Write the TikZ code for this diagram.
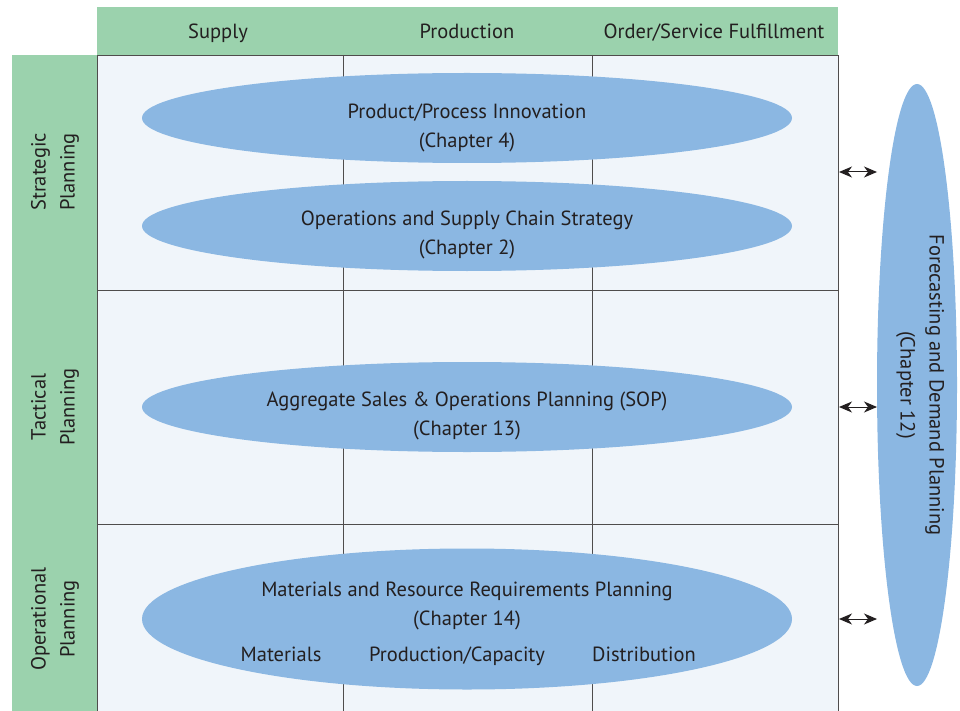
\documentclass[tikz,border=0pt]{standalone}
\usepackage{fontspec}
\setmainfont{PT Sans}
\usepackage{xcolor}
\usetikzlibrary{shapes.geometric,arrows.meta,positioning}

\definecolor{hdrgreen}{HTML}{9BD2AD}
\definecolor{ovalblue}{HTML}{8BB7E2}
\definecolor{cellbg}{HTML}{F0F5FA}
\definecolor{inkdark}{HTML}{231F20}

\begin{document}
\begin{tikzpicture}
  [x=1pt,y=-1pt,
   every node/.style={font=\fontsize{20.5}{29}\selectfont,text=inkdark,align=center},
   word/.style={text height=14pt,text depth=4pt},
   oval/.style={ellipse,fill=ovalblue,inner sep=0pt,minimum width=650pt,minimum height=90pt},
   rowlbl/.style={rotate=90},
   link/.style={{Stealth[length=13pt,width=11pt,inset=4pt]}-{Stealth[length=13pt,width=11pt,inset=4pt]},inkdark,line width=1pt}]
  \useasboundingbox (0,0) rectangle (960,711);

  % header and row bands
  \fill[hdrgreen] (97,7) rectangle (838,55);
  \fill[hdrgreen] (12,55) rectangle (97,711);
  \fill[cellbg] (97,55) rectangle (838,711);
  \draw[inkdark!80,line width=0.8pt] (97,711) -- (97,55) -- (838,55) -- (838,711);
  \draw[inkdark!80,line width=0.8pt] (343,55) -- (343,711);
  \draw[inkdark!80,line width=0.8pt] (592,55) -- (592,711);
  \draw[inkdark!80,line width=0.8pt] (97,290) -- (838,290);
  \draw[inkdark!80,line width=0.8pt] (97,524) -- (838,524);

  \node[word] (supply) at (218,34) {Supply};
  \node[word] (prod) at (467,34) {Production};
  \node[word] (order) at (714,34) {Order/Service Fulfillment};

  \node[rowlbl] (strat) at (55,172) {Strategic\\Planning};
  \node[rowlbl] (tact) at (55,407) {Tactical\\Planning};
  \node[rowlbl] (oper) at (55,619) {Operational\\Planning};

  % planning ovals
  \node[oval] (innov) at (467,118) {};
  \node (innovtext) at (467,128) {Product/Process Innovation\\(Chapter 4)};
  \node[oval] (strategy) at (467,226) {};
  \node (strategytext) at (467,235) {Operations and Supply Chain Strategy\\(Chapter 2)};
  \node[oval] (sop) at (467,407) {};
  \node (soptext) at (467,416) {Aggregate Sales \& Operations Planning (SOP)\\(Chapter 13)};
  \node[oval,minimum height=141pt] (mrp) at (467,619) {};
  \node (mrptext) at (467,606) {Materials and Resource Requirements Planning\\(Chapter 14)};
  \node[word] (mat) at (281,656) {Materials};
  \node[word] (cap) at (457,656) {Production/Capacity};
  \node[word] (dist) at (644,656) {Distribution};

  \node[ellipse,fill=ovalblue,inner sep=0pt,minimum width=80pt,minimum height=602pt] (fcst) at (917,385) {};
  \node[rotate=-90] (fcsttext) at (920,385) {Forecasting and Demand Planning\\(Chapter 12)};

  \coordinate (a1) at (839,172);
  \coordinate (b1) at (877,172);
  \coordinate (a2) at (839,407);
  \coordinate (b2) at (877,407);
  \coordinate (a3) at (839,619);
  \coordinate (b3) at (877,619);
  \foreach \from/\to in {a1/b1,a2/b2,a3/b3}
    \draw[link] (\from) -- (\to);

\end{tikzpicture}
\end{document}
